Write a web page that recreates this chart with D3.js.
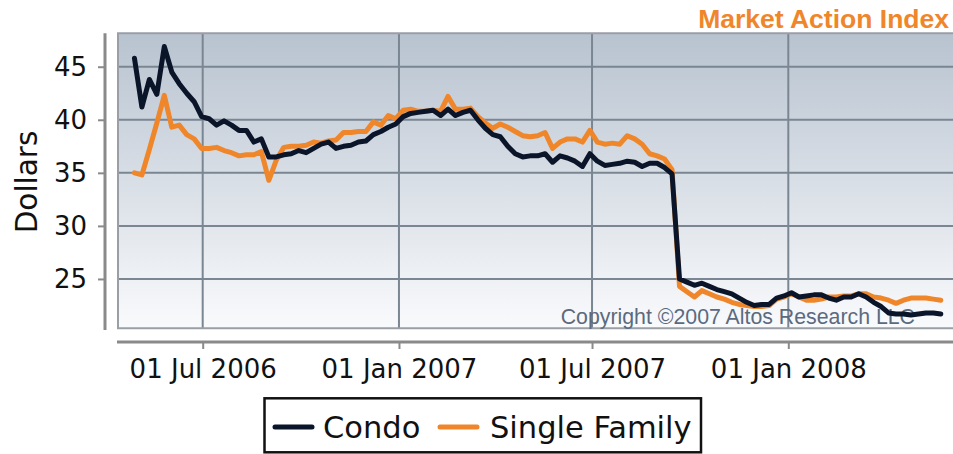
<!DOCTYPE html>
<html>
<head>
<meta charset="utf-8">
<script src="https://cdn.jsdelivr.net/npm/d3@7"></script>
<style>
  body { margin: 0; background: #fff; }
  svg { display: block; }
</style>
</head>
<body>
<svg width="953" height="454"></svg>
<script>
// Data (weekly, starting 28 Apr 2006)
const start_date = '2006-04-28';
const condo_values = [
    45.8, 41.2, 43.8, 42.4, 46.9, 44.5, 43.4, 42.5, 41.7, 40.3,
    40.1, 39.5, 39.9, 39.5, 39.0, 39.0, 37.9, 38.2, 36.5, 36.5,
    36.7, 36.8, 37.1, 36.9, 37.3, 37.7, 37.9, 37.3, 37.5, 37.6,
    37.9, 38.0, 38.6, 38.9, 39.3, 39.6, 40.3, 40.6, 40.7, 40.8,
    40.9, 40.4, 41.0, 40.4, 40.7, 40.9, 40.0, 39.2, 38.6, 38.4,
    37.5, 36.8, 36.5, 36.6, 36.6, 36.8, 36.0, 36.6, 36.4, 36.1,
    35.6, 36.8, 36.1, 35.7, 35.8, 35.9, 36.1, 36.0, 35.6, 35.9,
    35.9, 35.5, 34.9, 25.0, 24.7, 24.4, 24.6, 24.3, 24.0, 23.8,
    23.6, 23.2, 22.8, 22.5, 22.6, 22.6, 23.2, 23.4, 23.7, 23.3,
    23.4, 23.5, 23.5, 23.2, 23.0, 23.3, 23.3, 23.6, 23.3, 22.8,
    22.4, 21.8, 21.7, 21.7, 21.6, 21.7, 21.8, 21.8, 21.7
];
const single_family_values = [
    35.0, 34.8, 37.2, 39.7, 42.3, 39.3, 39.5, 38.6, 38.2, 37.3,
    37.3, 37.4, 37.1, 36.9, 36.6, 36.7, 36.7, 37.0, 34.3, 36.2,
    37.4, 37.5, 37.5, 37.6, 37.9, 37.8, 38.0, 38.1, 38.8, 38.8,
    38.9, 38.9, 39.8, 39.5, 40.4, 40.1, 40.9, 41.0, 40.8, 40.8,
    40.9, 40.8, 42.2, 41.0, 41.0, 41.1, 40.3, 39.7, 39.2, 39.6,
    39.3, 38.9, 38.5, 38.4, 38.5, 38.8, 37.3, 37.9, 38.2, 38.2,
    37.9, 39.0, 37.9, 37.7, 37.8, 37.7, 38.5, 38.2, 37.7, 36.8,
    36.6, 36.3, 35.3, 24.3, 23.8, 23.3, 23.9, 23.6, 23.3, 23.1,
    22.8, 22.6, 22.5, 22.4, 22.4, 22.5, 23.1, 23.3, 23.6, 23.3,
    23.0, 23.0, 23.1, 23.3, 23.3, 23.4, 23.4, 23.6, 23.6, 23.3,
    23.2, 23.0, 22.7, 23.0, 23.2, 23.2, 23.2, 23.1, 23.0
];
const y_ticks = [25, 30, 35, 40, 45];
const x_tick_dates = ['2006-07-01', '2007-01-01', '2007-07-01', '2008-01-01'];
const x_tick_labels = ['01 Jul 2006', '01 Jan 2007', '01 Jul 2007', '01 Jan 2008'];
const series_names = ['Condo', 'Single Family'];
const series_colors = ['#0b1529', '#f0862a'];

// Layout
const svg = d3.select('svg');
const width = +svg.attr('width');
const height = +svg.attr('height');
const plot = { left: 118, right: 953, top: 33.3, bottom: 328.3 };
const parse = d3.utcParse('%Y-%m-%d');

const weeks = condo_values.map((_, i) => d3.utcDay.offset(parse(start_date), 7 * i));
const series = [
    { name: series_names[1], color: series_colors[1], values: single_family_values },
    { name: series_names[0], color: series_colors[0], values: condo_values },
];

const xScale = d3.scaleUtc()
    .domain([parse('2006-07-01'), parse('2008-01-01')])
    .range([202.7, 788.3]);

const yScale = d3.scaleLinear()
    .domain([20.35, 48.15])
    .range([plot.bottom, plot.top]);

// Plot background gradient
const defs = svg.append('defs');
const grad = defs.append('linearGradient')
    .attr('id', 'bg')
    .attr('x1', 0).attr('y1', 0).attr('x2', 0).attr('y2', 1);
grad.append('stop').attr('offset', '0%').attr('stop-color', '#b8c3d0');
grad.append('stop').attr('offset', '100%').attr('stop-color', '#f9fafc');

svg.append('rect')
    .attr('x', plot.left)
    .attr('y', plot.top)
    .attr('width', plot.right - plot.left)
    .attr('height', plot.bottom - plot.top)
    .attr('fill', 'url(#bg)');

// Grid lines
svg.append('g')
    .selectAll('line')
    .data(y_ticks)
    .join('line')
    .attr('x1', plot.left)
    .attr('x2', plot.right)
    .attr('y1', d => yScale(d))
    .attr('y2', d => yScale(d))
    .attr('stroke', '#7b8693')
    .attr('stroke-width', 2);

svg.append('g')
    .selectAll('line')
    .data(x_tick_dates)
    .join('line')
    .attr('x1', d => xScale(parse(d)))
    .attr('x2', d => xScale(parse(d)))
    .attr('y1', plot.top)
    .attr('y2', plot.bottom)
    .attr('stroke', '#7b8693')
    .attr('stroke-width', 2);

// Plot border
svg.append('path')
    .attr('d', `M${plot.right},${plot.top}H${plot.left}V${plot.bottom}H${plot.right}`)
    .attr('fill', 'none')
    .attr('stroke', '#9a9fa6')
    .attr('stroke-width', 2);

// Copyright
svg.append('text')
    .attr('x', 915)
    .attr('y', 323.5)
    .attr('text-anchor', 'end')
    .attr('font-family', 'Liberation Sans, Arial, sans-serif')
    .attr('font-size', '21.3px')
    .attr('fill', '#5b6a7e')
    .text('Copyright \u00a92007 Altos Research LLC');

// Lines
const line = d3.line()
    .x((d, i) => xScale(weeks[i]))
    .y(d => yScale(d));

svg.append('g')
    .selectAll('path')
    .data(series)
    .join('path')
    .attr('d', d => line(d.values))
    .attr('fill', 'none')
    .attr('stroke', d => d.color)
    .attr('stroke-width', 5)
    .attr('stroke-linejoin', 'round')
    .attr('stroke-linecap', 'round');

// Y axis
const yAxis = svg.append('g')
    .attr('transform', 'translate(105,0)')
    .call(d3.axisLeft(yScale).tickValues(y_ticks).tickSize(7).tickPadding(11));
yAxis.select('.domain').remove();
yAxis.append('line')
    .attr('x1', 0).attr('x2', 0)
    .attr('y1', plot.top).attr('y2', 330)
    .attr('stroke', '#8a8a8a')
    .attr('stroke-width', 3);
yAxis.selectAll('.tick line').attr('stroke', '#8a8a8a').attr('stroke-width', 2);
yAxis.selectAll('.tick text')
    .attr('font-family', 'DejaVu Sans, Verdana, sans-serif')
    .attr('font-size', '26px')
    .attr('fill', '#111');

// X axis
const xAxis = svg.append('g')
    .attr('transform', 'translate(0,342)')
    .call(d3.axisBottom(xScale)
        .tickValues(x_tick_dates.map(parse))
        .tickFormat((d, i) => x_tick_labels[i])
        .tickSize(7)
        .tickPadding(11));
xAxis.select('.domain').remove();
xAxis.append('line')
    .attr('x1', 117).attr('x2', plot.right)
    .attr('y1', 0).attr('y2', 0)
    .attr('stroke', '#8a8a8a')
    .attr('stroke-width', 3);
xAxis.selectAll('.tick line').attr('stroke', '#8a8a8a').attr('stroke-width', 2);
xAxis.selectAll('.tick text')
    .attr('font-family', 'DejaVu Sans, Verdana, sans-serif')
    .attr('font-size', '26px')
    .attr('fill', '#111');

// Y title
svg.append('text')
    .attr('transform', 'translate(37,182) rotate(-90)')
    .attr('text-anchor', 'middle')
    .attr('font-family', 'DejaVu Sans, Verdana, sans-serif')
    .attr('font-size', '29.5px')
    .attr('fill', '#111')
    .text('Dollars');

// Title
svg.append('text')
    .attr('x', 949)
    .attr('y', 28.3)
    .attr('text-anchor', 'end')
    .attr('font-family', 'Liberation Sans, Arial, sans-serif')
    .attr('font-weight', 'bold')
    .attr('font-size', '26.5px')
    .attr('fill', '#f0862a')
    .text('Market Action Index');

// Legend
const legend = svg.append('g');
legend.append('rect')
    .attr('x', 264.5)
    .attr('y', 398.3)
    .attr('width', 436.5)
    .attr('height', 54)
    .attr('fill', '#fff')
    .attr('stroke', '#111')
    .attr('stroke-width', 2.5);

const legend_items = [
    { name: series_names[0], color: series_colors[0], x1: 275, x2: 312, tx: 323 },
    { name: series_names[1], color: series_colors[1], x1: 440, x2: 477, tx: 490 },
];
legend_items.forEach(d => {
    legend.append('line')
        .attr('x1', d.x1).attr('x2', d.x2)
        .attr('y1', 427).attr('y2', 427)
        .attr('stroke', d.color)
        .attr('stroke-width', 5)
        .attr('stroke-linecap', 'round');
    legend.append('text')
        .attr('x', d.tx)
        .attr('y', 438.3)
        .attr('font-family', 'DejaVu Sans, Verdana, sans-serif')
        .attr('font-size', '30.5px')
        .attr('fill', '#111')
        .text(d.name);
});
</script>
</body>
</html>
